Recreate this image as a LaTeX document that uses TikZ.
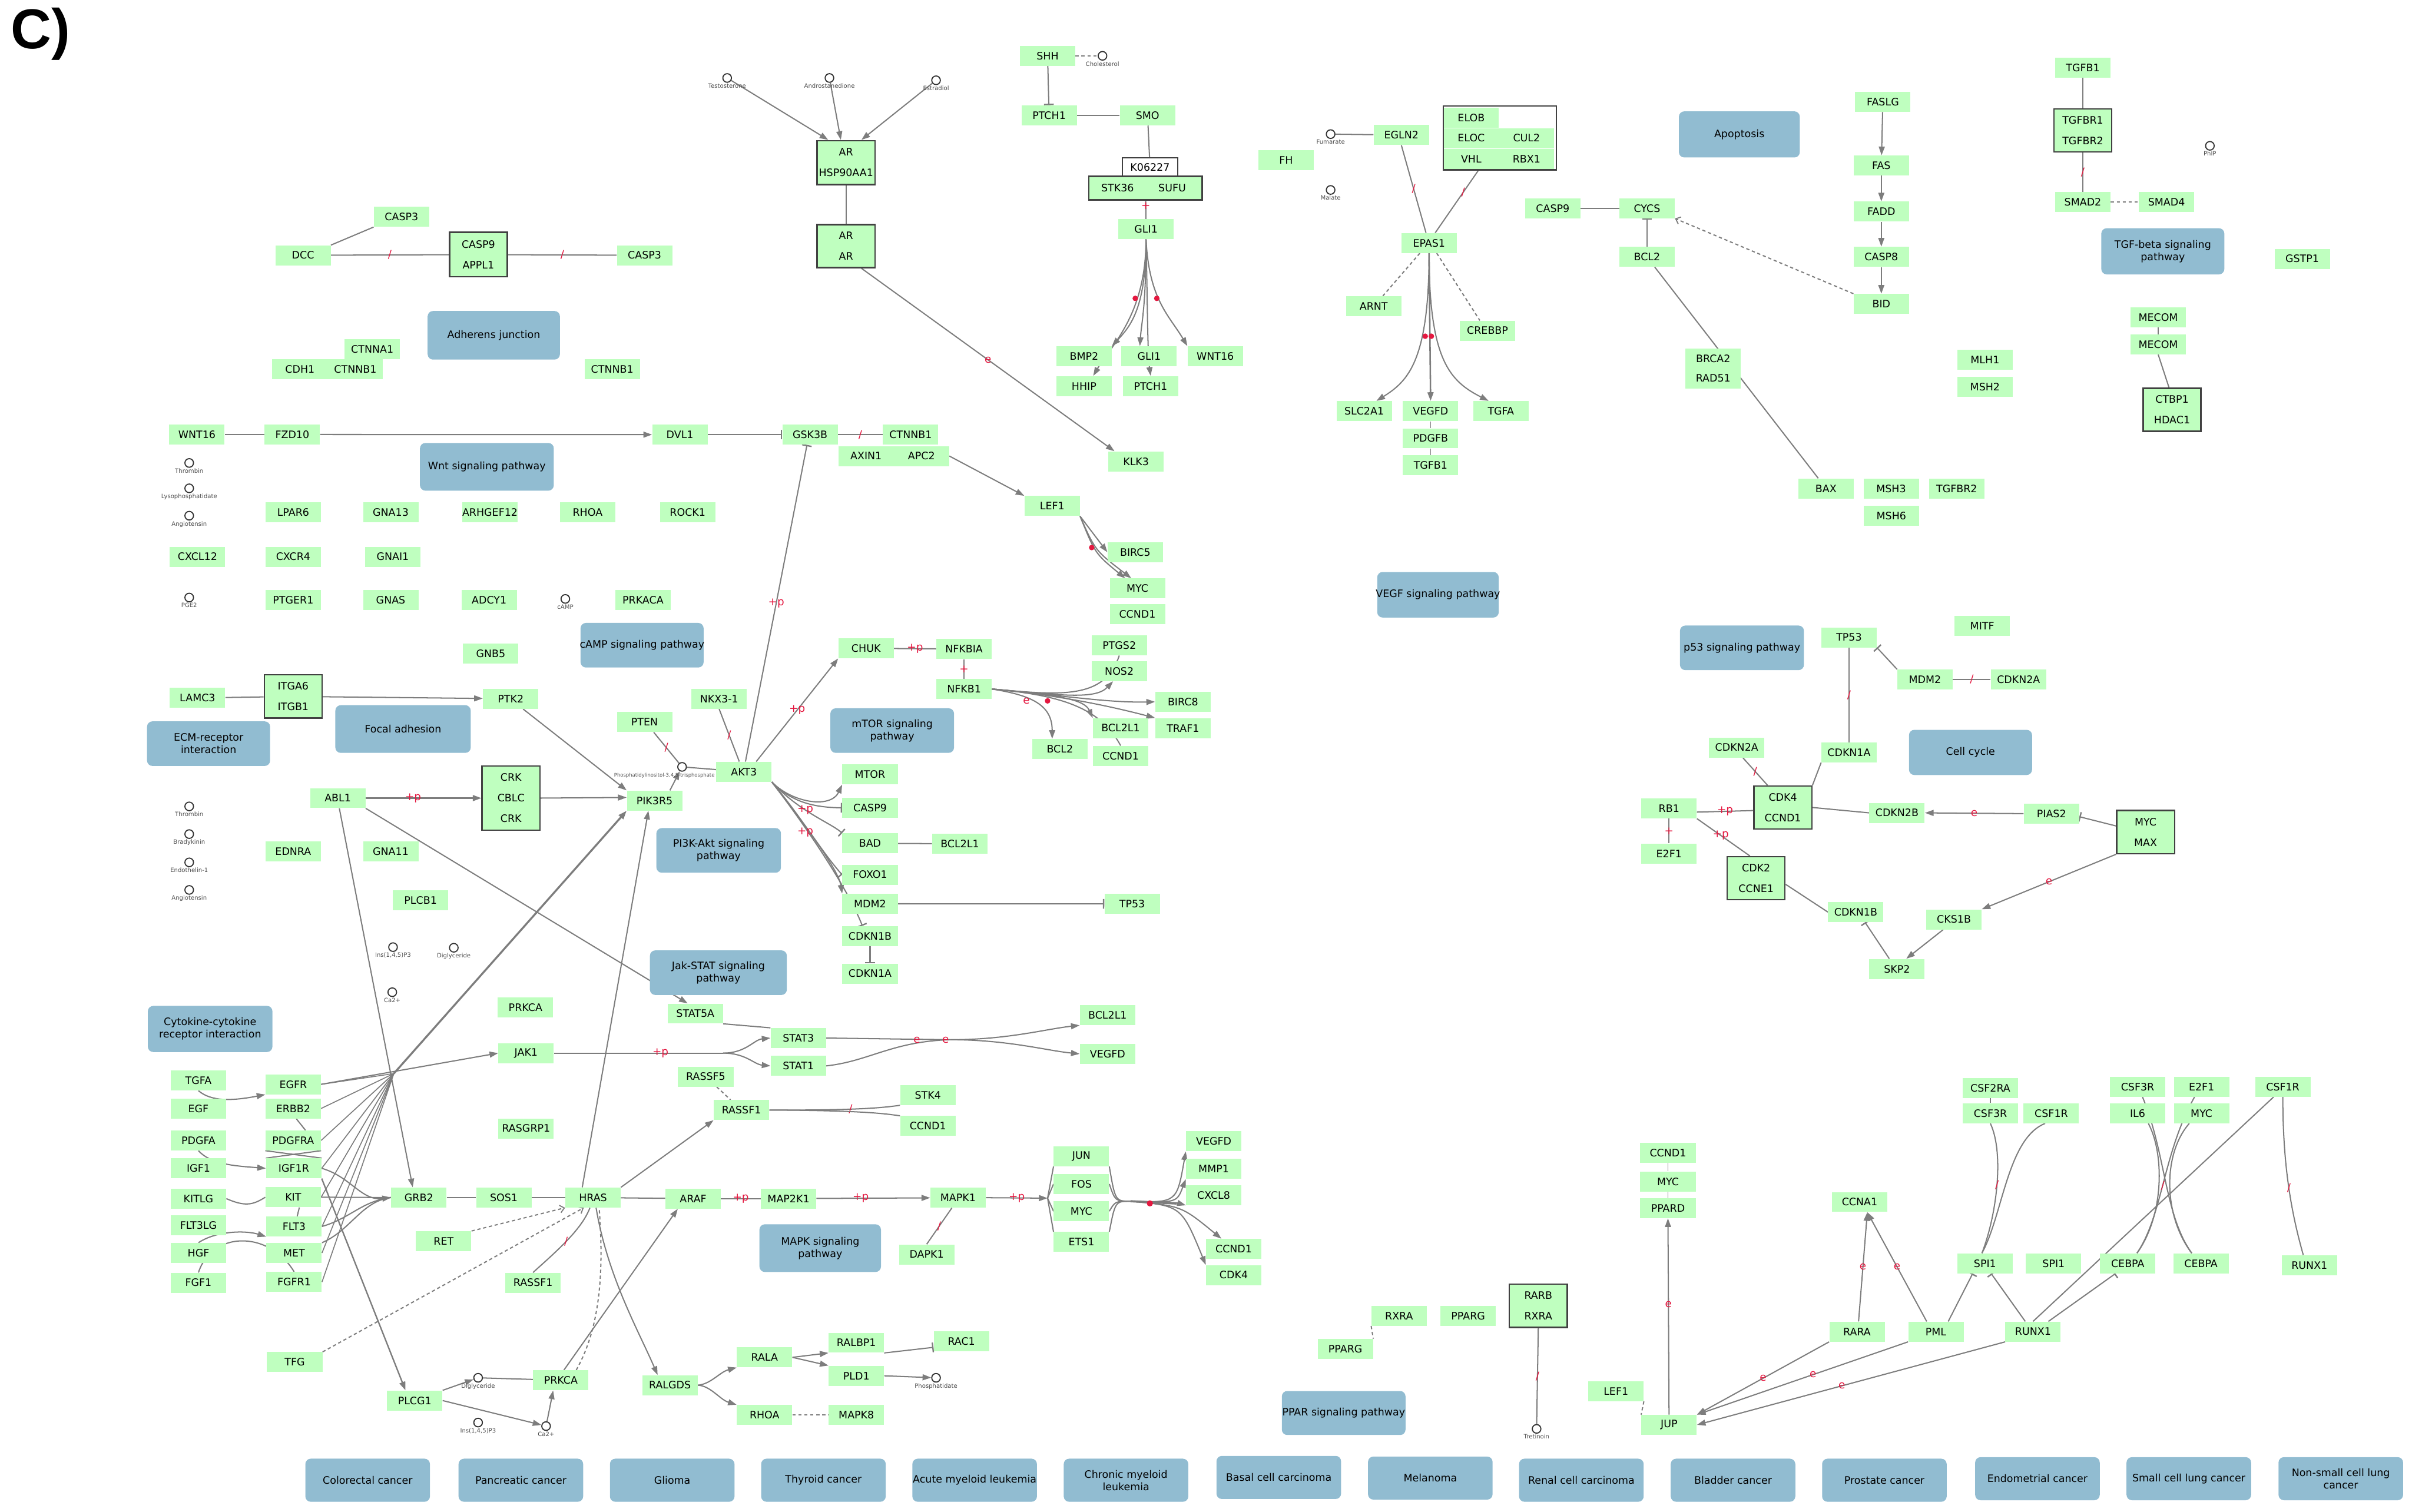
\documentclass[tikz,border=0pt]{standalone}
\usepackage{fontspec}
\setmainfont{DejaVu Sans}
\newfontfamily\panelfont{Liberation Sans}
\usetikzlibrary{arrows.meta,positioning,backgrounds,calc}

\definecolor{genegreen}{RGB}{191,255,191}
\definecolor{pathblue}{RGB}{145,188,209}
\definecolor{edgegray}{RGB}{125,125,125}
\definecolor{cplxgray}{RGB}{65,65,65}
\definecolor{mkred}{RGB}{228,24,64}

% line break that survives the loops
\protected\def\pbrk{\\}

\tikzset{
  gene/.style={rectangle, fill=genegreen, minimum width=1.8cm, minimum height=0.65cm,
    inner sep=0pt, font=\fontsize{9.5}{11}\selectfont},
  gtxt/.style={inner sep=0pt, font=\fontsize{9.5}{11}\selectfont},
  cplx/.style={rectangle, draw=cplxgray, fill=genegreen, line width=1.3pt, inner sep=0pt},
  cplxrows/.style={cplx, minimum width=1.88cm, align=center, font=\fontsize{9.5}{19}\selectfont},
  pbox/.style={rectangle, rounded corners=5pt, fill=pathblue},
  ptxt/.style={inner sep=0pt, align=center, font=\fontsize{9.5}{11.4}\selectfont},
  cpd/.style={circle, draw=black!80, line width=1pt, fill=white, minimum size=0.28cm,
    inner sep=0pt, label distance=0.5pt},
  cpdlbl/.style={font=\fontsize{5.5}{6}\selectfont, text=black!70, inner sep=0.5pt},
  lnk/.style={draw=edgegray, line width=1.1pt},
  act/.style={lnk, -{Triangle[length=8pt,width=5.5pt]}},
  inh/.style={lnk, -{Bar[width=9pt,line width=1.3pt]}},
  dsh/.style={lnk, dash pattern=on 3pt off 2.5pt},
  opn/.style={-{Straight Barb[length=4pt,width=7pt,line width=1pt]}},
  rl/.style={text=mkred, font=\fontsize{10}{10}\selectfont, inner sep=0pt},
  hub/.style={fill=mkred},
}

\begin{document}
\begin{tikzpicture}[x=0.05cm, y=-0.05cm]
\useasboundingbox (0,0) rectangle (1568,983);
\begin{scope}[on background layer]
  \fill[white] (0,0) rectangle (1568,983);
\end{scope}

% panel letter
\node[anchor=north west, inner sep=0pt, font=\panelfont\bfseries\fontsize{52}{52}\selectfont] (panel) at (7,5) {C)};

% linked pathway maps
\foreach \nm/\x/\y/\w/\h/\lbl in {
  adh/321/218/4.3/1.58/Adherens junction,
  wntp/316.5/303.5/4.35/1.55/Wnt signaling pathway,
  focal/262/474/4.4/1.55/Focal adhesion,
  ecm/135.6/483.5/4.0/1.45/ECM-receptor\pbrk interaction,
  campp/417.4/419.5/4.0/1.45/cAMP signaling pathway,
  mtorp/580/475/4.02/1.45/mTOR signaling\pbrk pathway,
  pi3kp/467.2/552.9/4.05/1.45/PI3K-Akt signaling\pbrk pathway,
  jakp/467/632.4/4.45/1.45/Jak-STAT signaling\pbrk pathway,
  cytop/136.6/669/4.05/1.5/Cytokine-cytokine\pbrk receptor interaction,
  mapkp/533.2/811.5/3.95/1.55/MAPK signaling\pbrk pathway,
  vegfp/934.8/386.7/3.95/1.48/VEGF signaling pathway,
  p53p/1132.4/421.2/4.03/1.45/p53 signaling pathway,
  apop/1130.7/87.4/3.93/1.5/Apoptosis,
  tgfbp/1406/163.4/4.0/1.5/TGF-beta signaling\pbrk pathway,
  cellc/1281/489.2/4.0/1.47/Cell cycle,
  pparp/873.5/918.7/4.02/1.43/PPAR signaling pathway,
  crc/239/962.4/4.05/1.4/Colorectal cancer,
  panc/338.6/962.4/4.05/1.4/Pancreatic cancer,
  gliom/437/962.4/4.05/1.4/Glioma,
  thyr/535.3/962.4/4.05/1.4/Thyroid cancer,
  aml/633.6/962.4/4.05/1.4/Acute myeloid leukemia,
  cml/732/962.4/4.05/1.4/Chronic myeloid\pbrk leukemia,
  bcc/831.3/960.6/4.05/1.4/Basal cell carcinoma,
  mel/929.8/961/4.05/1.4/Melanoma,
  rcc/1028/962.4/4.05/1.4/Renal cell carcinoma,
  blad/1126.6/962.4/4.05/1.4/Bladder cancer,
  pros/1225/962.4/4.05/1.4/Prostate cancer,
  endom/1324.5/961.4/4.05/1.4/Endometrial cancer,
  sclc/1422.9/961.4/4.05/1.4/Small cell lung cancer,
  nsclc/1521.7/961.4/4.05/1.4/Non-small cell lung\pbrk cancer
}{
  \node[pbox, minimum width=\w cm, minimum height=\h cm] (\nm) at (\x,\y) {};
  \node[ptxt] (\nm-t) at (\x,\y) {\lbl};
}

% compounds
\node[cpd, label={[cpdlbl]below:Testosterone}] (testo) at (472.7,50.7) {};
\node[cpd, label={[cpdlbl]below:Androstanedione}] (andro) at (539.2,50.7) {};
\node[cpd, label={[cpdlbl]below:Estradiol}] (estra) at (608.5,52.2) {};
\node[cpd, label={[cpdlbl]below:Cholesterol}] (chol) at (716.7,36.3) {};
\node[cpd, label={[cpdlbl]below:Fumarate}] (fum) at (865,87.2) {};
\node[cpd, label={[cpdlbl]below:Malate}] (mal) at (865,123.5) {};
\node[cpd, label={[cpdlbl]below:PhIP}] (phip) at (1436.6,94.8) {};
\node[cpd, label={[cpdlbl]below:Thrombin}] (thromb1) at (123,301) {};
\node[cpd, label={[cpdlbl]below:Lysophosphatidate}] (lpa) at (123,317.5) {};
\node[cpd, label={[cpdlbl]below:Angiotensin}] (angio1) at (123,335.3) {};
\node[cpd, label={[cpdlbl]below:PGE2}] (pge2) at (123,388.5) {};
\node[cpd, label={[cpdlbl]below:cAMP}] (camp) at (367.5,389.4) {};
\node[cpd, label={[cpdlbl]below:Thrombin}] (thromb2) at (123,524.3) {};
\node[cpd, label={[cpdlbl]below:Bradykinin}] (brady) at (123,542.3) {};
\node[cpd, label={[cpdlbl]below:Endothelin-1}] (endo) at (123,560.7) {};
\node[cpd, label={[cpdlbl]below:Angiotensin}] (angio2) at (123,578.6) {};
\node[cpd, label={[cpdlbl]below:{Ins(1,4,5)P3}}] (ip3a) at (255.5,615.8) {};
\node[cpd, label={[cpdlbl]below:Diglyceride}] (dag1) at (295,616.2) {};
\node[cpd, label={[cpdlbl]below:Ca2+}] (ca1) at (255,645.1) {};
\node[cpd] (pip3) at (443.4,498.6) {};
\node[cpdlbl, font=\fontsize{4.6}{5}\selectfont, anchor=north east] (pip3-l) at (465,502.2) {Phosphatidylinositol-3,4,5-trisphosphate};
\node[cpd, label={[cpdlbl]below:Diglyceride}] (dag2) at (310.8,895.8) {};
\node[cpd, label={[cpdlbl]below:{Ins(1,4,5)P3}}] (ip3b) at (310.8,924.9) {};
\node[cpd, label={[cpdlbl]below:Ca2+}] (ca2) at (355,927.2) {};
\node[cpd, label={[cpdlbl]below:Phosphatidate}] (pa) at (608.5,895.8) {};
\node[cpd, label={[cpdlbl]below:Tretinoin}] (tret) at (998.9,929) {};

% genes, left part
\foreach \nm/\x/\y/\lbl in {
  casp3a/261/141/CASP3, dcc/197/166/DCC, casp3b/419/166/CASP3,
  ctnna1/242/227/CTNNA1, cdh1/195/240/CDH1, ctnnb1a/231/240/CTNNB1, ctnnb1b/398/240/CTNNB1,
  wnt16a/128/282.5/WNT16, fzd10/190/282.5/FZD10,
  lpar6/190.6/333/LPAR6, gna13/254/333/GNA13, arhgef12/318.5/333/ARHGEF12,
  rhoaa/382/333/RHOA, rock1/447/333/ROCK1,
  cxcl12/128.4/362/CXCL12, cxcr4/190.6/362/CXCR4, gnai1/255.3/362/GNAI1,
  ptger1/190.6/390/PTGER1, gnas/254/390/GNAS, adcy1/318/390/ADCY1, prkaca/418/390/PRKACA,
  gnb5/319/425/GNB5, lamc3/128.4/453.8/LAMC3, ptk2/332/454.3/PTK2,
  abl1/219.6/518.9/ABL1, ednra/190.6/553.6/EDNRA, gna11/254/553.6/GNA11,
  plcb1/273.4/585.2/PLCB1, prkcaa/341.6/655/PRKCA,
  tgfa/129/702.5/TGFA, egf/129/720.7/EGF, egfr/190.6/705/EGFR, erbb2/190.6/720.7/ERBB2,
  pdgfa/129/741.5/PDGFA, igf1/129/759.6/IGF1, pdgfra/190.6/741.5/PDGFRA, igf1r/191/759.6/IGF1R,
  kitlg/129/779.3/KITLG, kit/190.6/778.4/KIT, flt3lg/129/796.6/FLT3LG, flt3/191.2/797.4/FLT3,
  hgf/129/814.6/HGF, met/191.2/814.6/MET, fgf1/129/834/FGF1, fgfr1/191.2/833.5/FGFR1,
  tfg/191.6/885.6/TFG, grb2/272.3/778.6/GRB2, sos1/327.5/778.6/SOS1, hras/385.5/778.6/HRAS,
  jak1/342/684.7/JAK1, rasgrp1/342/733.7/RASGRP1, ret/288.4/807/RET,
  rassf1a/346.5/834/RASSF1, plcg1/269.6/910.6/PLCG1, prkcab/364.6/897.4/PRKCA
}
  \node[gene] (\nm) at (\x,\y) {\lbl};

% genes, middle part
\foreach \nm/\x/\y/\lbl in {
  dvl1/442/282.6/DVL1, gsk3b/526.6/282.6/GSK3B, ctnnb1c/592/282.6/CTNNB1,
  axin1/563/296.5/AXIN1, apc2/599/296.5/APC2, lef1a/684/329/LEF1, klk3/738.5/300/KLK3,
  shh/681/36.3/SHH, ptch1a/682/75/PTCH1, smo/746/75/SMO, gli1a/745/149/GLI1,
  bmp2/704.7/231.6/BMP2, hhip/704.7/251/HHIP, gli1b/747/231.6/GLI1, ptch1b/748/251/PTCH1,
  wnt16b/790/231.6/WNT16,
  birc5/738/359/BIRC5, myca/739.4/382.6/MYC, ccnd1a/739.4/399.2/CCND1,
  ptgs2/727.6/419.6/PTGS2, nos2/727.6/436.3/NOS2,
  chuk/563/421.5/CHUK, nfkbia/626.7/422/NFKBIA, nfkb1/626.7/448/NFKB1,
  birc8/769/456.3/BIRC8, traf1/769/473.4/TRAF1, bcl2l1a/728.5/473.4/BCL2L1,
  ccnd1b/728.5/491.4/CCND1, bcl2a/689/487/BCL2,
  nkx31/467.5/454.3/NKX3-1, pten/419/469.5/PTEN, akt3/483.6/501.8/AKT3, pik3r5/425.5/520.5/PIK3R5,
  mtor/565.6/503.5/MTOR, casp9a/565.6/525.2/CASP9, bad/565.6/548.3/BAD, bcl2l1b/624/548.6/BCL2L1,
  foxo1/565.6/568.7/FOXO1, mdm2a/565.6/587.6/MDM2, cdkn1ba/565.6/608.6/CDKN1B,
  cdkn1aa/565.6/633/CDKN1A, tp53a/736/587.7/TP53,
  stat5a/452/659/STAT5A, bcl2l1c/720/660/BCL2L1, stat3/519/674.9/STAT3, stat1/519/693/STAT1,
  vegfda/720/685.2/VEGFD, rassf5/458.8/700/RASSF5, rassf1b/482/721.7/RASSF1,
  stk4/603.2/712/STK4, ccnd1c/603.2/732.1/CCND1,
  araf/450.6/779.3/ARAF, map2k1/512.6/779.3/MAP2K1, mapk1/622.8/778.7/MAPK1, dapk1/602.4/815.6/DAPK1,
  jun/703/751.8/JUN, fos/703/769.8/FOS, mycb/703/787.5/MYC, ets1/703/807.5/ETS1,
  vegfdb/789/742/VEGFD, mmp1/789/760/MMP1, cxcl8/789/777/CXCL8, ccnd1d/802/812/CCND1, cdk4a/802/829/CDK4,
  ralgds/435.5/900.6/RALGDS, rala/497/882.5/RALA, rhoab/497/920/RHOA,
  ralbp1/556.7/873/RALBP1, pld1/556.7/894.5/PLD1, rac1/625/872/RAC1, mapk8/556.7/920/MAPK8
}
  \node[gene] (\nm) at (\x,\y) {\lbl};

% genes, right part
\foreach \nm/\x/\y/\lbl in {
  egln2/911/87.8/EGLN2, fh/836/104/FH, epas1/929/158/EPAS1, arnt/893/199/ARNT, crebbp/967/215/CREBBP,
  slc2a1/886.8/267.3/SLC2A1, vegfdc/930/267.3/VEGFD, tgfa2/975.7/267.3/TGFA,
  pdgfb/930/285/PDGFB, tgfb1a/930/302.5/TGFB1,
  casp9b/1009.4/135.4/CASP9, cycs/1070.7/135.4/CYCS, bcl2b/1070.7/167/BCL2,
  brca2/1113.7/233.2/BRCA2, rad51/1113.7/246/RAD51,
  bax/1187/317.6/BAX, msh3/1229.4/317.6/MSH3, tgfbr2b/1272/317.6/TGFBR2, msh6/1229.5/335.5/MSH6,
  fasl/1224/66.2/FASLG, fas/1223/107.6/FAS, fadd/1223/137.6/FADD, casp8/1223/167/CASP8, bid/1223/197.6/BID,
  tgfb1b/1354/44/TGFB1, smad2/1354/131.3/SMAD2, smad4/1408.4/131.3/SMAD4, gstp1/1496.6/168.3/GSTP1,
  mecoma/1403/206.3/MECOM, mecomb/1403/223.9/MECOM, mlh1/1290.4/234/MLH1, msh2/1290.4/251.5/MSH2,
  mitf/1288.6/407/MITF, tp53b/1202/414.4/TP53, mdm2b/1251.4/441.8/MDM2, cdkn2aa/1312.2/441.8/CDKN2A,
  cdkn1ab/1202/489.2/CDKN1A, cdkn2ab/1129/486/CDKN2A, rb1/1085/525.6/RB1, e2f1a/1085/555/E2F1,
  cdkn2b/1233.2/528.5/CDKN2B, pias2/1333.6/529/PIAS2, cks1b/1270.2/597.8/CKS1B,
  cdkn1bb/1206.4/593/CDKN1B, skp2/1233.2/630/SKP2,
  rxraa/909.5/855.5/RXRA, pparga/954.4/855.5/PPARG, ppargb/874.6/877/PPARG,
  ccnd1e/1084.3/749.5/CCND1, mycc/1084.3/768.2/MYC, ppard/1084.3/785.5/PPARD,
  jup/1085/926.4/JUP, lef1b/1050.5/904.5/LEF1,
  csf2ra/1293.9/707.3/CSF2RA, csf3ra/1293.9/723.8/CSF3R, csf1ra/1333.5/723.8/CSF1R,
  csf3rb/1389.6/706.6/CSF3R, e2f1b/1431.2/706.6/E2F1, csf1rb/1484/706.6/CSF1R,
  il6/1389.6/723.8/IL6, mycd/1431.2/723.8/MYC, ccna1/1208.9/781.5/CCNA1,
  spi1a/1290.4/821.4/SPI1, spi1b/1335/821.4/SPI1, cebpaa/1383.2/821.4/CEBPA, cebpab/1430.8/821.4/CEBPA,
  runx1a/1501.3/822.6/RUNX1, rara/1207.2/865.8/RARA, pml/1258.5/865.8/PML, runx1b/1321.6/865.8/RUNX1
}
  \node[gene] (\nm) at (\x,\y) {\lbl};

% complexes
\foreach \nm/\x/\y/\h/\lbl in {
  casp9appl1/311/165.5/1.45/CASP9\pbrk APPL1,
  itga6itgb1/190.6/452.8/1.4/ITGA6\pbrk ITGB1,
  crkcblc/332.2/518.9/2.09/CRK\pbrk CBLC\pbrk CRK,
  arhsp/550/105.7/1.43/AR\pbrk HSP90AA1,
  arar/550/160/1.4/AR\pbrk AR,
  tgfbr/1354/84.8/1.4/TGFBR1\pbrk TGFBR2,
  ctbp1hdac1/1412/266.4/1.4/CTBP1\pbrk HDAC1,
  cdk4ccnd1/1159/525/1.4/CDK4\pbrk CCND1,
  cdk2ccne1/1141.6/571/1.4/CDK2\pbrk CCNE1,
  mycmax/1394.8/541/1.4/MYC\pbrk MAX,
  rarbrxra/1000/849/1.41/RARB\pbrk RXRA
}
  \node[cplxrows, minimum height=\h cm] (\nm) at (\x,\y) {\lbl};

\node[rectangle, draw=cplxgray, line width=1.1pt, fill=white, minimum width=1.8cm, minimum height=0.6cm,
  inner sep=0pt, font=\fontsize{9.5}{11}\selectfont] (k06227) at (747.6,108.7) {K06227};
\node[cplx, minimum width=3.68cm, minimum height=0.76cm] (stksufu) at (744.7,122.3) {};
\node[gtxt] (stk36) at (726.5,122.3) {STK36};
\node[gtxt] (sufu) at (762,122.3) {SUFU};

\foreach \nm/\x/\y/\lbl in {elob/956.4/76.7/ELOB, eloc/956.4/89.8/ELOC, vhl/956.4/103.3/VHL,
  cul2/992.4/89.8/CUL2, rbx1/992.4/103.3/RBX1}
  \node[gene] (\nm) at (\x,\y) {\lbl};
\node[cplx, fill=none, minimum width=3.68cm, minimum height=2.08cm] (vhlcplx) at (975,89.6) {};

% interactions
\begin{scope}[on background layer]
% DCC, Wnt
\draw[lnk] (dcc.north east) -- (casp3a.south west);
\draw[lnk] (dcc) -- node[rl]{/} (casp9appl1);
\draw[lnk] (casp9appl1) -- node[rl]{/} (casp3b);
\draw[lnk] (wnt16a) -- (fzd10);
\draw[act] (fzd10) -- (dvl1);
\draw[inh] (dvl1) -- (gsk3b);
\draw[lnk] (gsk3b) -- node[rl]{/} (ctnnb1c);
\draw[act] (apc2.east) -- (lef1a.north west);
\draw[act] (lef1a.south east) -- (birc5.west);
\draw[act] (lef1a.south east) .. controls (712,360) .. ([xshift=-0.4cm]myca.north);
\draw[act] (lef1a.south east) .. controls (712,358) .. ([xshift=-0.2cm]myca.north);
\fill[hub] (709.7,356) circle (1.8);

% androgen receptor
\draw[act] (testo) -- ([xshift=-0.58cm]arhsp.north);
\draw[act] (andro) -- ([xshift=-0.17cm]arhsp.north);
\draw[act] (estra) -- ([xshift=0.5cm]arhsp.north);
\draw[lnk] (arhsp) -- (arar);
\draw[act] ([xshift=0.5cm]arar.south) -- node[rl]{e} ([xshift=-0.7cm]klk3.north);

% hedgehog
\draw[dsh] (shh) -- (chol);
\draw[inh] (shh) -- (ptch1a);
\draw[lnk] (ptch1a) -- (smo);
\draw[lnk] (smo) -- (k06227);
\draw[lnk] (gli1a) -- node[rl, pos=0.7]{+} (stksufu);
\draw[act] (gli1a.south) .. controls (745,200) and (735,212) .. (bmp2.north east);
\draw[act] (gli1a.south) .. controls (745,205) and (722,225) .. ([xshift=0.3cm]hhip.north);
\draw[act] (gli1a.south) .. controls (745,200) and (742,210) .. ([xshift=-0.3cm]gli1b.north);
\draw[act] (gli1a.south) .. controls (746,200) and (746,230) .. (ptch1b.north);
\draw[act] (gli1a.south) .. controls (747,195) and (760,205) .. (wnt16b.north west);
\fill[hub] (738,194) circle (1.8) (752,194) circle (1.8);

% hypoxia
\draw[lnk] (fum) -- (egln2);
\draw[lnk] (egln2.south) -- node[rl]{/} ([xshift=-0.1cm]epas1.north);
\draw[lnk] ([xshift=-0.7cm]vhlcplx.south) -- node[rl, pos=0.35]{/} ([xshift=0.2cm]epas1.north);
\draw[dsh] ([xshift=-0.3cm]epas1.south) -- ([xshift=0.3cm]arnt.north);
\draw[dsh] ([xshift=0.25cm]epas1.south) -- ([xshift=-0.25cm]crebbp.north);
\draw[act, line width=1.4pt] (epas1.south) -- (vegfdc.north);
\draw[act] (epas1.south) .. controls (929,235) and (915,248) .. ([xshift=0.4cm]slc2a1.north);
\draw[act] (epas1.south) .. controls (929,235) and (943,248) .. ([xshift=-0.4cm]tgfa2.north);
\fill[hub] (926.5,218.6) circle (1.8) (930.5,218.6) circle (1.8);
\draw[edgegray, line width=0.6pt] (vegfdc) -- (pdgfb);
\draw[edgegray, line width=0.6pt] (pdgfb) -- (tgfb1a);

% apoptosis
\draw[lnk] (casp9b) -- (cycs);
\draw[inh] (bcl2b) -- (cycs);
\draw[dsh, opn] (bid.north west) -- (cycs.south east);
\draw[lnk] ([xshift=0.25cm]bcl2b.south) -- ([xshift=-0.25cm]bax.north);
\draw[act] (fasl) -- (fas);
\draw[act] (fas) -- (fadd);
\draw[act] (fadd) -- (casp8);
\draw[act] (casp8) -- (bid);

% TGF-beta
\draw[lnk] (tgfb1b) -- (tgfbr);
\draw[lnk] (tgfbr) -- node[rl]{/} (smad2);
\draw[dsh] (smad2) -- (smad4);
\draw[edgegray, line width=0.6pt] (mecoma) -- (mecomb);
\draw[lnk] (mecomb.south) -- ([xshift=-0.1cm]ctbp1hdac1.north);

% focal adhesion, PI3K-Akt
\draw[lnk] (lamc3) -- (itga6itgb1);
\draw[act] (itga6itgb1) -- (ptk2);
\draw[act] (abl1) -- node[rl, pos=0.41]{+p} (crkcblc);
\draw[act] ([xshift=0.4cm]ptk2.south) -- (pik3r5.north west);
\draw[act] (crkcblc.east) -- ([yshift=0.1cm]pik3r5.west);
\draw[act] ([xshift=0.5cm]pik3r5.north) -- (pip3);
\draw[lnk] (pip3) -- (akt3);
\draw[lnk] ([xshift=0.3cm]pten.south) -- node[rl]{/} (pip3);
\draw[lnk] (nkx31.south) -- node[rl]{/} ([xshift=-0.15cm]akt3.north);
\draw[inh] ([xshift=0.05cm]akt3.north) -- node[rl]{+p} ([xshift=-0.1cm]gsk3b.south);
\draw[act] ([xshift=0.4cm]akt3.north) -- node[rl]{+p} (chuk.south west);
\draw[lnk] (chuk) -- node[rl]{+p} (nfkbia);
\draw[lnk] (nfkbia) -- node[rl]{+} (nfkb1);
\draw[act] (nfkb1.east) .. controls (690,452) and (720,457) .. (birc8.west);
\draw[act] (nfkb1.east) .. controls (690,452) and (725,460) .. (traf1.north west);
\draw[act] (nfkb1.east) .. controls (690,452) and (705,455) .. (bcl2l1a.north west);
\draw[lnk] (nfkb1.east) .. controls (690,452) and (715,460) .. (ccnd1b.north);
\draw[act] (nfkb1.east) .. controls (690,452) and (712,455) .. ([xshift=-0.2cm]nos2.south);
\draw[lnk] (nfkb1.east) .. controls (690,452) and (718,455) .. (ptgs2.south);
\draw[act] (nfkb1.east) .. controls (670,452) and (684,458) .. ([xshift=-0.25cm]bcl2a.north);
\node[rl] (enfkb) at (667.2,455.7) {e};
\fill[hub] (681,455.7) circle (1.8);
\draw[act] (akt3.south east) .. controls (515,522) and (540,526) .. (mtor.south west);
\draw[inh] (akt3.south east) .. controls (515,522) and (530,525) .. (casp9a.west);
\draw[inh] (akt3.south east) .. controls (520,528) and (540,535) .. (bad.north west);
\draw[inh] (akt3.south east) .. controls (520,530) and (535,555) .. (foxo1.west);
\draw[act] (akt3.south east) .. controls (520,532) and (545,565) .. (mdm2a.north west);
\draw[inh] (akt3.south east) .. controls (520,532) and (550,575) .. ([xshift=-0.25cm]cdkn1ba.north);
\node[rl] (pakt1) at (523.5,526.5) {+p};
\node[rl] (pakt2) at (523.5,541.3) {+p};
\draw[inh] (cdkn1ba) -- (cdkn1aa);
\draw[lnk] (bad) -- (bcl2l1b);
\draw[inh] (mdm2a) -- (tp53a);

% receptor tyrosine kinases
\coordinate (rtkhub) at (256,698);
\foreach \r in {egfr,erbb2,pdgfra,igf1r,kit,flt3,met,fgfr1}
  \draw[lnk, line width=0.9pt] (\r.east) -- (rtkhub);
\draw[act, line width=1.8pt] (rtkhub) -- (pik3r5.south west);
\draw[act] (egfr.east) -- (jak1.west);
\draw[act] (igf1r.east) .. controls (228,765) and (235,781) .. (grb2.west);
\draw[lnk] (kit.east) -- (grb2.west);
\draw[lnk] (flt3.east) .. controls (228,792) and (235,781) .. (grb2.west);
\draw[lnk] (met.north east) .. controls (228,800) and (235,781) .. (grb2.west);
\draw[act, line width=1.3pt] (igf1r.south east) -- ([xshift=-0.3cm]plcg1.north);
\draw[act] (tgfa.south) .. controls (137,716) and (150,716) .. (egfr.south west);
\draw[act] (pdgfa.south) .. controls (137,757) and (152,758) .. (igf1r.west);
\draw[lnk] (kitlg.east) .. controls (160,785) and (165,783) .. (kit.west);
\draw[act] (hgf.north) .. controls (141,800) and (160,800) .. (flt3.south west);
\draw[lnk] (fgf1.north) .. controls (138,800) and (175,800) .. (fgfr1.north);
\draw[lnk] ([xshift=0.1cm]erbb2.south) -- ([xshift=0.4cm]pdgfra.north);
\draw[lnk] (pdgfra.south west) -- (igf1r.north east);
\draw[lnk] (pdgfra.south east) -- (igf1r.north west);
\draw[lnk] ([xshift=0.2cm]kit.south) -- ([xshift=0.1cm]flt3.north);
\draw[act] ([xshift=0.05cm]abl1.south) -- ([xshift=-0.2cm]grb2.north);
\draw[act] (abl1.south east) -- ([xshift=-0.25cm]stat5a.north);

% Ras and MAPK
\draw[lnk] (grb2) -- (sos1);
\draw[lnk] (sos1) -- (hras);
\draw[lnk] (hras) -- (araf);
\draw[lnk] (araf) -- node[rl]{+p} (map2k1);
\draw[act] (map2k1) -- node[rl, pos=0.39]{+p} (mapk1);
\draw[lnk] ([xshift=-0.2cm]mapk1.south) -- node[rl]{/} (dapk1.north);
\draw[act] ([xshift=-0.35cm]hras.north) -- ([xshift=-0.2cm]pik3r5.south);
\draw[act] (hras.north east) -- (rassf1b.south west);
\draw[dsh] (rassf5) -- (rassf1b);
\draw[lnk] (rassf1b.east) .. controls (560,722) and (575,720) .. node[rl, pos=0.4]{/} (stk4.south west);
\draw[lnk] (rassf1b.east) .. controls (560,722) and (575,724) .. (ccnd1c.north west);
\draw[act] ([xshift=0.1cm]hras.south) .. controls (395,830) and (415,865) .. ([xshift=-0.4cm]ralgds.north);
\draw[dsh, opn] (ret.north east) -- (hras.south west);
\draw[dsh, opn] (tfg.north east) -- ([xshift=-0.3cm]hras.south);
\draw[lnk] (rassf1a.north) .. controls (360,815) and (378,800) .. node[rl]{/} ([xshift=-0.1cm]hras.south);
\draw[act] ([xshift=0.1cm]prkcab.north) -- ([xshift=-0.5cm]araf.south);
\draw[dsh] ([xshift=0.5cm]prkcab.north) .. controls (392,860) and (392,820) .. ([xshift=0.2cm]hras.south);
\draw[act] (plcg1.north east) -- (dag2);
\draw[act] (plcg1.east) -- (ca2);
\draw[lnk] (dag2) -- (prkcab);
\draw[act] (ca2) -- ([xshift=-0.25cm]prkcab.south);
\coordinate (aphub) at (681,779);
\draw[act] (mapk1.east) -- node[rl, pos=0.5]{+p} (aphub);
\draw[lnk] (aphub) -- (jun.south west);
\draw[lnk] (aphub) -- (fos.west);
\draw[lnk] (aphub) -- (mycb.west);
\draw[lnk] (aphub) -- (ets1.north west);
\coordinate (apout) at (735,781);
\foreach \s in {jun.south east, fos.east, mycb.east, ets1.north east}
  \draw[lnk] (\s) .. controls (725,781) .. (apout);
\draw[lnk, line width=2pt] (apout) -- (765,782.5);
\draw[act] (apout) .. controls (765,782) .. (vegfdb.south west);
\draw[act] (apout) .. controls (765,782) .. (mmp1.south west);
\draw[act] (apout) .. controls (765,782) .. (cxcl8.south west);
\draw[act] (apout) .. controls (768,784) .. ([xshift=-0.4cm]ccnd1d.north);
\draw[act] (apout) .. controls (768,784) .. (cdk4a.north west);
\fill[hub] (747.5,782.4) circle (2);

% Jak-STAT
\coordinate (jakhub) at (470,684.7);
\draw[lnk] (jak1.east) -- node[rl, pos=0.63]{+p} (jakhub);
\draw[act] (jakhub) .. controls (485,684.7) and (490,676) .. (stat3.west);
\draw[act] (jakhub) .. controls (485,684.7) and (490,692) .. (stat1.west);
\draw[lnk] (stat5a.south east) -- (stat3.north west);
\coordinate (stathub) at (618,676);
\draw[lnk] (stat3.east) -- (stathub);
\draw[lnk] (stat1.east) .. controls (565,690) and (580,677) .. (stathub);
\draw[act] (stathub) .. controls (655,676) and (680,669) .. (bcl2l1c.south west);
\draw[act] (stathub) .. controls (655,676) and (680,683) .. (vegfda.west);
\node[rl] (estat1) at (596,676.2) {e};
\node[rl] (estat2) at (614.7,676.2) {e};

% Ral
\draw[act] (ralgds.east) .. controls (462,900) and (468,892) .. (rala.south west);
\draw[act] (ralgds.east) .. controls (462,901) and (468,910) .. (rhoab.north west);
\draw[act] (rala.east) -- (ralbp1.south west);
\draw[act] (rala.east) -- (pld1.north west);
\draw[inh] (ralbp1.south east) -- ([yshift=-0.2cm]rac1.west);
\draw[act] (pld1.east) -- (pa);
\draw[dsh] (rhoab) -- (mapk8);

% cell cycle, p53
\draw[lnk] ([xshift=0.2cm]cdkn2ab.south) -- node[rl]{/} ([xshift=-0.5cm]cdk4ccnd1.north);
\draw[lnk] ([yshift=-0.12cm]rb1.east) -- node[rl]{+p} ([yshift=-0.1cm]cdk4ccnd1.west);
\draw[lnk] (rb1.south east) -- node[rl, pos=0.45]{+p} ([xshift=-0.2cm]cdk2ccne1.north);
\draw[lnk] (rb1) -- node[rl]{+} (e2f1a);
\draw[lnk] (cdkn1ab.south west) -- (cdk4ccnd1.north east);
\draw[lnk] (cdk4ccnd1.east) -- (cdkn2b.west);
\draw[act] (pias2.west) -- node[rl]{e} (cdkn2b.east);
\draw[inh] ([yshift=0.2cm]mycmax.west) -- ([yshift=-0.1cm]pias2.east);
\draw[act] (mycmax.south west) -- node[rl]{e} (cks1b.north east);
\draw[act] ([xshift=-0.35cm]cks1b.south) -- ([xshift=0.3cm]skp2.north);
\draw[inh] ([xshift=-0.25cm]skp2.north) -- ([xshift=0.3cm]cdkn1bb.south);
\draw[lnk] ([yshift=-0.2cm]cdk2ccne1.east) -- (cdkn1bb.west);
\draw[lnk] (tp53b) -- node[rl]{/} (cdkn1ab);
\draw[inh] (mdm2b.north west) -- (tp53b.south east);
\draw[lnk] (mdm2b) -- node[rl]{/} (cdkn2aa);

% PPAR, retinoic acid, leukemia
\draw[dsh] (rxraa.south west) -- (ppargb.north east);
\draw[lnk] (rarbrxra.south) -- node[rl]{/} (tret);
\draw[act] (jup.north) -- node[rl, pos=0.56]{e} (ppard.south);
\draw[dsh] (lef1b.south east) -- (jup.north west);
\draw[edgegray, line width=0.6pt] (ccnd1e) -- (mycc);
\draw[edgegray, line width=0.6pt] (mycc) -- (ppard);
\draw[act] (rara.south west) -- node[rl]{e} (jup.north east);
\draw[act] (pml.south west) -- node[rl, pos=0.45]{e} (jup.north east);
\draw[act] (runx1b.south west) -- node[rl, pos=0.53]{e} (jup.east);
\draw[act] ([xshift=0.05cm]rara.north) -- node[rl]{e} ([xshift=0.25cm]ccna1.south);
\draw[act] ([xshift=-0.3cm]pml.north) -- node[rl]{e} ([xshift=0.25cm]ccna1.south);
\draw[inh] ([xshift=0.4cm]pml.north) -- ([xshift=-0.4cm]spi1a.south);
\draw[inh] ([xshift=-0.25cm]runx1b.north) -- ([xshift=0.2cm]spi1a.south);
\draw[inh] ([xshift=0.5cm]runx1b.north) -- ([xshift=-0.4cm]cebpaa.south);
\draw[lnk] (runx1b.north) -- ([xshift=-0.3cm]csf1rb.south);
\draw[edgegray, line width=0.6pt] (csf2ra) -- (csf3ra);
\draw[lnk] (csf3ra.south) .. controls (1303,750) and (1298,790) .. node[rl]{/} ([xshift=-0.1cm]spi1a.north);
\draw[lnk] ([xshift=-0.2cm]csf1ra.south) .. controls (1305,740) and (1302,790) .. ([xshift=-0.1cm]spi1a.north);
\draw[lnk] ([xshift=0.35cm]il6.south) .. controls (1407,750) and (1407,790) .. ([xshift=0.3cm]cebpaa.north);
\draw[lnk] ([xshift=-0.4cm]mycd.south) .. controls (1406,750) and (1406,790) .. ([xshift=-0.3cm]cebpab.north);
\draw[lnk] ([xshift=0.16cm]csf3rb.south) .. controls (1408,750) and (1407,790) .. ([xshift=-0.3cm]cebpab.north);
\draw[lnk] ([xshift=-0.23cm]e2f1b.south) .. controls (1406,750) and (1406,790) .. ([xshift=0.3cm]cebpaa.north);
\node[rl] (xcebpa) at (1406,771) {/};
\draw[lnk] (csf1rb.south) .. controls (1484,760) and (1490,790) .. node[rl]{/} ([xshift=-0.2cm]runx1a.north);
\end{scope}
\end{tikzpicture}
\end{document}
